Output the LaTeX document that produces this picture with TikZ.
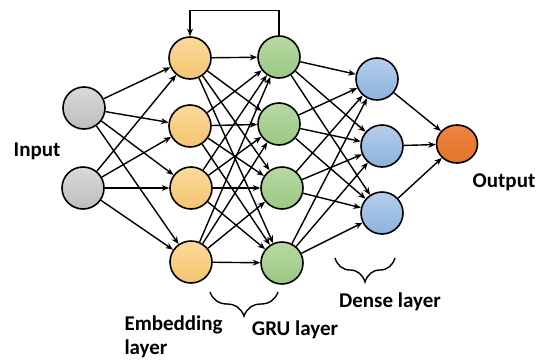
\documentclass[tikz,border=0pt]{standalone}
\usepackage{fontspec}
\setmainfont{Carlito}
\usetikzlibrary{arrows.meta,decorations.pathreplacing,shapes.geometric}
\definecolor{grayT}{HTML}{DADADA}\definecolor{grayB}{HTML}{BDBDBD}
\definecolor{yelT}{HTML}{FBDA9A}\definecolor{yelB}{HTML}{F4C470}
\definecolor{grnT}{HTML}{B8D9A3}\definecolor{grnB}{HTML}{9AC883}
\definecolor{bluT}{HTML}{B5CEEB}\definecolor{bluB}{HTML}{8DB2DD}
\definecolor{orgT}{HTML}{EE8440}\definecolor{orgB}{HTML}{E2742A}
\tikzset{
  neuron/.style={circle,draw=black,line width=1.6pt,minimum size=42pt,inner sep=0pt},
  inp/.style={neuron,top color=grayT,bottom color=grayB},
  emb/.style={neuron,top color=yelT,bottom color=yelB},
  gru/.style={neuron,top color=grnT,bottom color=grnB},
  dns/.style={neuron,top color=bluT,bottom color=bluB},
  outn/.style={ellipse,draw=black,line width=1.6pt,minimum width=41pt,minimum height=38pt,inner sep=0pt,top color=orgT,bottom color=orgB},
  conn/.style={line width=1.4pt,-{Stealth[length=7.5pt,width=6pt]}},
  lbl/.style={font=\fontsize{21}{24}\selectfont\bfseries},
  brc/.style={line width=1.4pt,decorate,decoration={brace,mirror,amplitude=24pt}}
}
\begin{document}
\begin{tikzpicture}[x=1pt,y=-1pt]
\useasboundingbox (0,0) rectangle (543,359);
% nodes
\node[inp] (i1) at (84,108) {};
\node[inp] (i2) at (83,188) {};
\node[emb] (e1) at (190,58) {};
\node[emb] (e2) at (190,126) {};
\node[emb] (e3) at (191,188) {};
\node[emb] (e4) at (191,262) {};
\node[gru] (g1) at (279,57) {};
\node[gru] (g2) at (279,124) {};
\node[gru] (g3) at (282,188) {};
\node[gru] (g4) at (282,263) {};
\node[dns] (d1) at (377,79) {};
\node[dns] (d2) at (382,146) {};
\node[dns] (d3) at (382,213) {};
\node[outn] (o) at (457,144) {};
% connections
\foreach \a in {i1,i2}{\foreach \b in {e1,e2,e3,e4}{\draw[conn] (\a) -- (\b);}}
\foreach \a in {e1,e2,e3,e4}{\foreach \b in {g1,g2,g3,g4}{\draw[conn] (\a) -- (\b);}}
\foreach \a in {g1,g2,g3,g4}{\foreach \b in {d1,d2,d3}{\draw[conn] (\a) -- (\b);}}
\foreach \a in {d1,d2,d3}{\draw[conn] (\a) -- (o);}
\draw[conn] (g1.north) -- ++(0,-25) -| (e1.north);
% braces
\coordinate (b1s) at (210,292); \coordinate (b1e) at (278,292);
\draw[brc] (b1s) -- (b1e);
\coordinate (b2s) at (335,258); \coordinate (b2e) at (395,258);
\draw[brc] (b2s) -- (b2e);
% labels
\node[lbl] (tin) at (37,151) {Input};
\node[lbl] (tout) at (504,182) {Output};
\node[lbl,align=left,anchor=west] (temb) at (121,337) {Embedding\\layer};
\node[lbl] (tgru) at (295,330) {GRU layer};
\node[lbl] (tdns) at (390,302) {Dense layer};
\end{tikzpicture}
\end{document}
